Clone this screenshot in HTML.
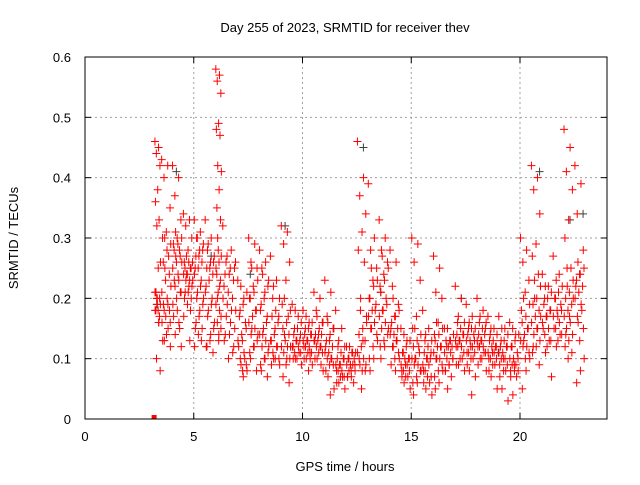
<!DOCTYPE html>
<html><head><meta charset="utf-8"><style>
body{margin:0;background:#fff;}
svg text{font-family:"Liberation Sans",sans-serif;font-size:13px;fill:#000;}
</style></head><body>
<svg id="c" width="640" height="480">
<text x="345" y="32" text-anchor="middle">Day 255 of 2023, SRMTID for receiver thev</text>
<text x="345" y="471" text-anchor="middle">GPS time / hours</text>
<text transform="translate(18,238) rotate(-90)" text-anchor="middle">SRMTID / TECUs</text>
<g id="grid"></g><g id="pts"></g><g id="axes"></g>
</svg>
<script>
const xTicks=[0,5,10,15,20];
const yTicks=[0,0.1,0.2,0.3,0.4,0.5,0.6];
const yTickLabels=["0","0.1","0.2","0.3","0.4","0.5","0.6"];
const binStarts=[3.2,3.5,4,4.5,5,5.5,6,6.3,7,7.5,8,8.5,9,9.5,10,10.5,11,11.5,12,12.5,13,13.5,14,14.5,15,15.5,16,16.5,17,17.5,18,18.5,19,19.5,20,20.5,21,21.5,22,22.5];
const binValues=[
[.46,.45,.44,.42,.38,.36,.33,.32,.26,.25,.21,.2,.19,.18,.16,.1,.08],
[.43,.42,.4,.35,.31,.3,.27,.25,.22,.2,.19,.18,.17,.16,.15,.13,.12],
[.42,.4,.37,.33,.3,.29,.28,.27,.26,.24,.23,.21,.2,.19,.16,.14,.12],
[.34,.33,.32,.3,.28,.26,.25,.24,.23,.22,.21,.2,.19,.17,.13],
[.33,.31,.3,.28,.27,.25,.23,.21,.2,.18,.16,.15,.14,.12],
[.33,.3,.28,.26,.25,.22,.2,.18,.16,.14,.12,.11],
[.58,.57,.56,.54,.49,.48,.47,.42,.41,.38,.35,.33,.28,.25,.22,.2,.17,.14],
[.32,.28,.26,.25,.24,.22,.2,.19,.18,.16,.14,.12,.1],
[.23,.2,.18,.15,.13,.12,.1,.09,.08,.07],
[.3,.29,.26,.25,.22,.2,.18,.15,.14,.12,.1,.08],
[.28,.26,.25,.22,.2,.18,.16,.14,.12,.1,.08,.07],
[.27,.23,.2,.17,.15,.13,.12,.1,.09],
[.32,.31,.29,.26,.23,.19,.17,.14,.12,.1,.07,.06],
[.19,.17,.15,.14,.13,.12,.11,.1,.09],
[.18,.16,.15,.14,.13,.12,.11,.1,.09,.08],
[.21,.2,.18,.16,.14,.13,.12,.1,.08],
[.23,.21,.17,.15,.13,.12,.1,.07,.05,.04],
[.18,.15,.12,.1,.09,.08,.07,.06,.05],
[.12,.11,.1,.09,.08,.07],
[.46,.4,.37,.34,.31,.28,.26,.2,.16,.13,.1,.08,.05],
[.39,.3,.28,.25,.23,.2,.18,.15,.13,.1,.08],
[.33,.3,.28,.26,.24,.22,.2,.18,.15,.12,.1],
[.28,.26,.22,.19,.17,.15,.13,.12,.1,.08],
[.15,.13,.11,.1,.09,.08,.07,.06,.05],
[.3,.29,.26,.23,.17,.15,.12,.1,.08,.06,.04],
[.18,.15,.13,.11,.1,.08,.06,.05,.04],
[.27,.25,.21,.2,.16,.14,.12,.1,.08,.06,.05],
[.15,.13,.12,.1,.09,.08,.07,.05],
[.22,.2,.16,.14,.13,.12,.1,.09,.08],
[.19,.17,.15,.13,.12,.11,.1,.08,.07,.04],
[.2,.18,.16,.15,.13,.12,.11,.1,.08],
[.17,.15,.14,.12,.11,.1,.09,.07,.05],
[.17,.15,.13,.12,.1,.09,.08,.05,.03],
[.16,.14,.12,.1,.09,.08,.07,.04],
[.3,.28,.26,.23,.21,.18,.15,.13,.1,.08,.05],
[.42,.4,.38,.34,.29,.27,.24,.2,.17,.15,.12,.09],
[.24,.22,.2,.18,.17,.15,.13,.11,.07],
[.27,.24,.2,.18,.17,.15,.14,.12],
[.48,.45,.41,.38,.33,.3,.25,.22,.2,.17,.14,.11,.1],
[.42,.39,.34,.28,.24,.22,.18,.16,.1,.08,.06]];
const binValuesDense=[
[.2,.19,.18,.18,.17,.2,.21,.16],
[.3,.29,.28,.26,.24,.23,.21,.19,.18,.16,.14,.13],
[.31,.3,.29,.28,.27,.26,.25,.23,.22,.21,.18,.17,.15],
[.27,.26,.26,.25,.25,.24,.24,.23,.23,.22,.21,.2,.18],
[.3,.29,.28,.27,.26,.25,.24,.22,.2,.19,.17,.15,.13],
[.29,.27,.26,.25,.24,.23,.21,.19,.17,.15,.13,.12],
[.3,.27,.26,.24,.23,.21,.19,.18,.16,.15,.13],
[.27,.26,.25,.24,.23,.21,.2,.18,.17,.15,.14,.13,.11],
[.22,.21,.19,.17,.16,.14,.13,.11,.1,.09,.08],
[.25,.23,.21,.2,.18,.17,.16,.15,.14,.13,.12,.11],
[.24,.23,.21,.19,.17,.15,.14,.13,.12,.11,.1,.09],
[.22,.2,.18,.17,.16,.14,.13,.12,.11,.1,.1,.09],
[.2,.18,.16,.15,.14,.13,.12,.12,.11,.1,.09],
[.18,.16,.15,.14,.13,.13,.12,.12,.11,.11,.1,.1],
[.17,.16,.15,.14,.14,.13,.13,.12,.12,.11,.11,.1,.1],
[.17,.16,.15,.14,.14,.13,.13,.12,.12,.11,.11,.1,.09],
[.16,.15,.14,.13,.12,.11,.11,.1,.1,.09,.09,.08],
[.13,.12,.11,.1,.1,.09,.09,.08,.08,.07,.07,.06],
[.12,.11,.11,.1,.1,.09,.09,.09,.08,.08,.07,.07,.06],
[.18,.17,.15,.14,.13,.12,.11,.1,.09,.09,.08],
[.25,.23,.22,.2,.19,.18,.17,.16,.15,.14,.12,.1],
[.27,.25,.23,.21,.19,.18,.17,.16,.15,.14,.13,.12],
[.2,.18,.17,.16,.15,.14,.14,.13,.12,.11,.1,.09],
[.14,.13,.12,.11,.1,.1,.09,.09,.08,.08,.07,.07],
[.15,.14,.13,.12,.11,.1,.1,.09,.09,.08,.07,.06],
[.14,.13,.12,.11,.1,.1,.09,.09,.08,.07,.07,.06],
[.16,.15,.14,.13,.12,.12,.11,.1,.1,.09,.08,.07],
[.15,.14,.13,.13,.12,.12,.11,.11,.1,.1,.09,.08],
[.17,.16,.15,.14,.14,.13,.13,.12,.12,.11,.1,.09],
[.16,.15,.15,.14,.14,.13,.13,.12,.11,.11,.1,.09],
[.17,.16,.15,.14,.14,.13,.13,.12,.12,.11,.1,.09],
[.15,.14,.13,.13,.12,.12,.11,.11,.1,.1,.09,.08],
[.15,.14,.13,.12,.12,.11,.11,.1,.1,.09,.08,.07],
[.15,.14,.13,.12,.11,.1,.1,.09,.09,.08,.08,.07],
[.2,.19,.17,.16,.15,.14,.13,.12,.12,.11,.1],
[.23,.22,.2,.19,.18,.17,.16,.15,.14,.13,.12,.11],
[.22,.21,.2,.19,.18,.17,.16,.15,.14,.13,.12],
[.23,.22,.21,.2,.19,.18,.17,.16,.15,.14,.13],
[.25,.23,.21,.2,.19,.18,.17,.16,.15,.14,.13,.12],
[.26,.25,.24,.23,.22,.21,.2,.19,.17,.15,.13]];
const grayTimes=[3.3,4.2,5.8,7.6,9.2,10.4,12.8,13.6,17.3,19.0,20.9,22.3,22.9];
const grayValues=[.19,.41,.27,.24,.32,.14,.45,.21,.2,.11,.41,.33,.34];
const zeroTimes=[3.2];
const zeroValues=[0];
const L=85,R=607,T=57,B=419;
const X=h=>L+(h/24)*(R-L);
const Y=v=>B-(v/0.6)*(B-T);
const NS="http://www.w3.org/2000/svg";
function mk(tag,attrs,parent){const e=document.createElementNS(NS,tag);for(const k in attrs)e.setAttribute(k,attrs[k]);parent.appendChild(e);return e;}
const grid=document.getElementById('grid'),axes=document.getElementById('axes'),pts=document.getElementById('pts');
xTicks.forEach(t=>{
 if(t>0){const g=mk('line',{x1:X(t),x2:X(t),y1:T,y2:B,stroke:'#a0a0a0','stroke-dasharray':'2,3'},grid);
 
 }
 mk('line',{x1:X(t),x2:X(t),y1:B,y2:B-6,stroke:'#000'},axes);
 mk('line',{x1:X(t),x2:X(t),y1:T,y2:T+6,stroke:'#000'},axes);
 const tx=mk('text',{x:X(t),y:B+22,'text-anchor':'middle'},axes);tx.textContent=t;
 
 
});
yTicks.forEach((t,i)=>{
 if(t>0&&t<0.6){const g=mk('line',{x1:L,x2:R,y1:Y(t),y2:Y(t),stroke:'#a0a0a0','stroke-dasharray':'2,3'},grid);
 
 }
 mk('line',{x1:L,x2:L+6,y1:Y(t),y2:Y(t),stroke:'#000'},axes);
 mk('line',{x1:R,x2:R-6,y1:Y(t),y2:Y(t),stroke:'#000'},axes);
 const tx=mk('text',{x:L-14,y:Y(t)+5,'text-anchor':'end'},axes);tx.textContent=yTickLabels[i];
 
 
});
const fr=mk('rect',{x:L,y:T,width:R-L,height:B-T,fill:'none',stroke:'#000'},axes);


function plus(h,v,col){
 const x=X(h),y=Y(v);
 const p=mk('path',{d:`M${x-4},${y}h8M${x},${y-4}v8`,stroke:col,'stroke-width':1,fill:'none'},pts);
 
 
}
grayTimes.forEach((h,i)=>plus(h,grayValues[i],'#404040'));
function drawBins(arr,phase){
 binStarts.forEach((s,b)=>{
  const vals=arr[b];
  const w=(b+1<binStarts.length?binStarts[b+1]-s:0.5);
  vals.forEach((v,i)=>{const f=((i+phase)*0.6180339)%1;plus(s+w*(0.05+0.9*f),v,'#ff0000');});
 });
}
drawBins(binValues,0);
drawBins(binValuesDense,0.5);
zeroTimes.forEach((h,i)=>{
 const r=mk('rect',{x:X(h)-3,y:Y(zeroValues[i])-4,width:5,height:4,fill:'#ff0000'},pts);
 
 
});
</script>
</body></html>
